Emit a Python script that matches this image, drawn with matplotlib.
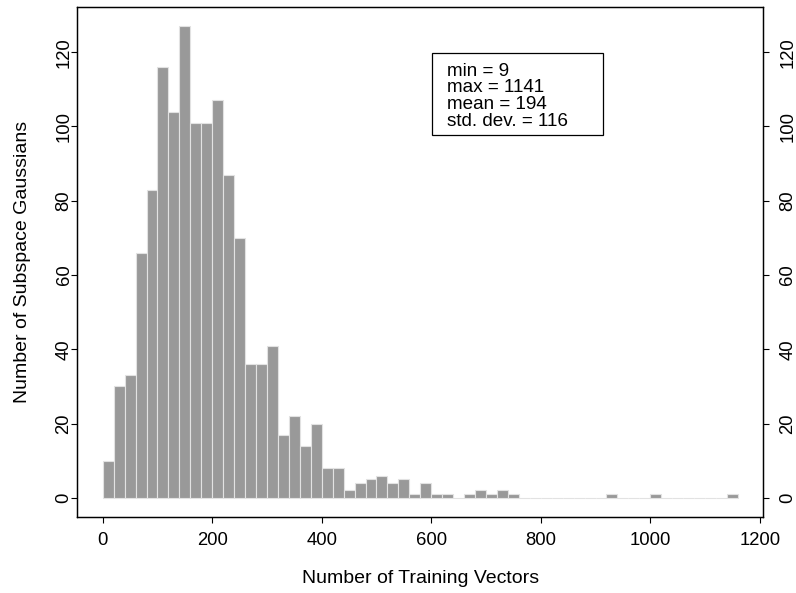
import numpy as np
import matplotlib
matplotlib.use("Agg")
import matplotlib.pyplot as plt

plt.rcParams['font.family'] = ['Liberation Sans', 'DejaVu Sans']

# histogram of training vectors per subspace gaussian, bins of 20 starting at 0
bin_start = 0
bin_width = 20
counts = [10, 30, 33, 66, 83, 116, 104, 127, 101, 101,
          107, 87, 70, 36, 36, 41, 17, 22, 14, 20,
          8, 8, 2, 4, 5, 6, 4, 5, 1, 4,
          1, 1, 0, 1, 2, 1, 2, 1, 0, 0,
          0, 0, 0, 0, 0, 0, 1, 0, 0, 0,
          1, 0, 0, 0, 0, 0, 0, 1]
stats_text = ["min = 9", "max = 1141", "mean = 194", "std. dev. = 116"]
x_ticks = [0, 200, 400, 600, 800, 1000, 1200]
y_ticks = [0, 20, 40, 60, 80, 100, 120]

edges = bin_start + bin_width * np.arange(len(counts) + 1)

fig = plt.figure(figsize=(7.96, 5.93), dpi=100)
ax = fig.add_axes([0.0971, 0.1287, 0.8618, 0.859])

ax.bar(edges[:-1], counts, width=bin_width, align='edge',
       color='#999999', edgecolor='#e2e2e2', linewidth=0.8)

# R style axis padding (4%)
xr = edges[-1] - edges[0]
ax.set_xlim(edges[0] - 0.04 * xr, edges[-1] + 0.04 * xr)
yr = max(counts)
ax.set_ylim(-0.04 * yr, yr * 1.04)

fs = 13.3
ax.set_xticks(x_ticks)
ax.set_yticks(y_ticks)
ax.tick_params(axis='both', direction='out', length=4.2, width=0.8,
               labelsize=fs)
ax.tick_params(axis='x', pad=7)
ax.tick_params(axis='y', pad=-0.8)
for lab in ax.get_yticklabels():
    lab.set_rotation(90)
    lab.set_va('center')

# same axis repeated on the right
ax2 = ax.twinx()
ax2.set_ylim(ax.get_ylim())
ax2.set_yticks(y_ticks)
ax2.tick_params(axis='y', direction='out', length=4.2, width=0.8,
                labelsize=fs, pad=7.4)
for lab in ax2.get_yticklabels():
    lab.set_rotation(90)
    lab.set_va('center')

for a in (ax, ax2):
    for spine in a.spines.values():
        spine.set_linewidth(0.9)

ax.set_xlabel("Number of Training Vectors", fontsize=14, labelpad=15)
ax.set_ylabel("Number of Subspace Gaussians", fontsize=14, labelpad=17.5)

# statistics box
ax.add_patch(plt.Rectangle((601, 97.6), 312, 22.2, fill=False,
                           edgecolor='black', linewidth=0.9))
ax.text(629, 100.2, "\n".join(stats_text), fontsize=13.6, va='baseline',
        ha='left', linespacing=0.97)

fig.savefig("out.png", dpi=100)
